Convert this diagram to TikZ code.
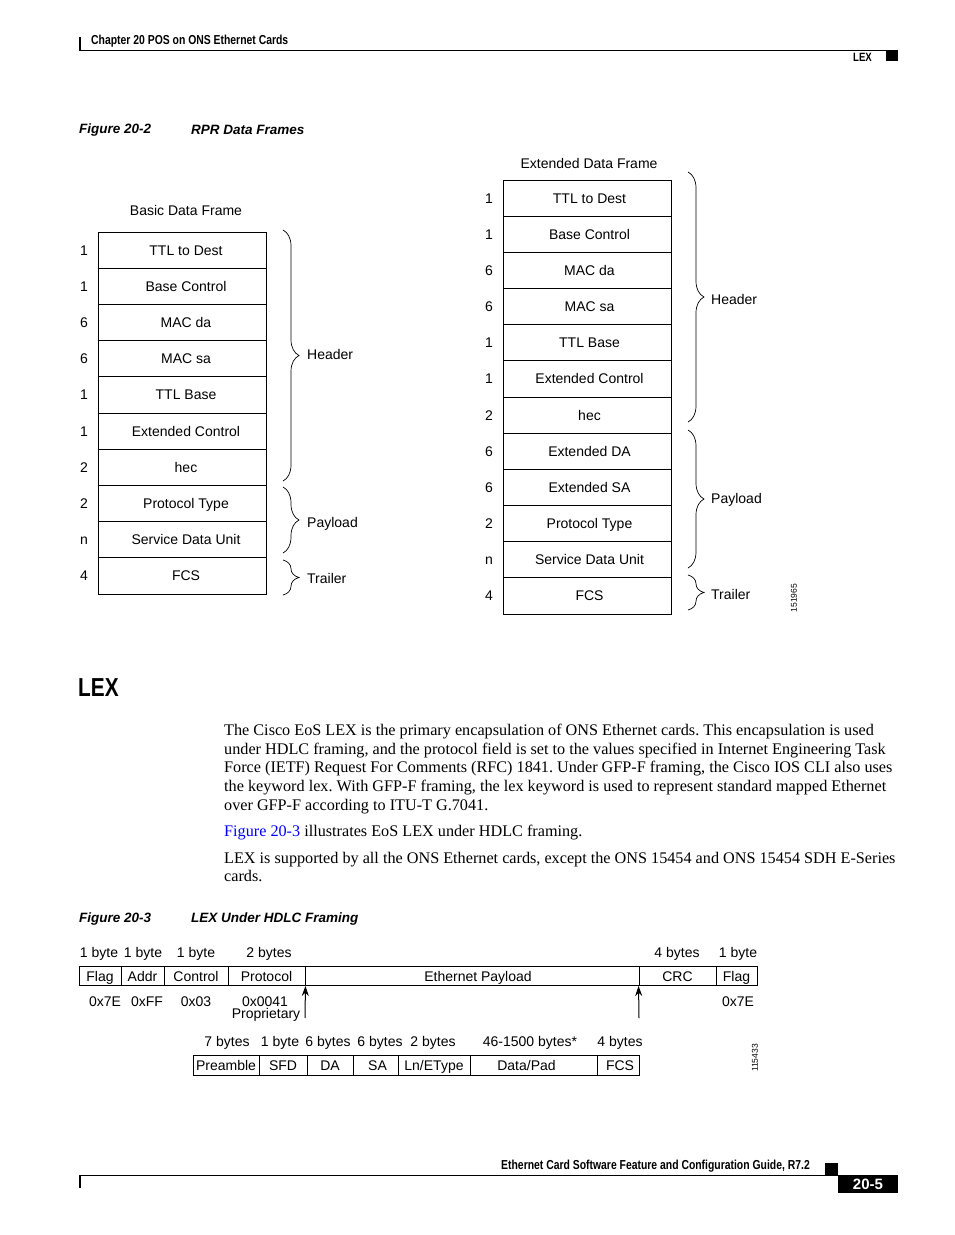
\documentclass[tikz,border=0pt]{standalone}
\usepackage{fontspec}
\setmainfont{Liberation Serif}
\newfontfamily\figfont{Liberation Sans}
\newfontfamily\condfont[FakeStretch=0.8]{Liberation Sans}
\usetikzlibrary{decorations.pathreplacing,arrows.meta}
\definecolor{linkblue}{RGB}{0,0,255}
\newcommand\myfs[1]{\fontsize{#1}{#1}\selectfont}
\frenchspacing
\begin{document}
\begin{tikzpicture}[x=1pt,y=-1pt,
  lbl/.style={font=\figfont\myfs{14}, inner sep=0pt, text height=10pt, text depth=0pt},
  frow/.style={lbl, draw, line width=0.9pt, minimum width=168pt, minimum height=36.2pt},
  brc/.style={decorate, decoration={brace, amplitude=16pt}, line width=0.7pt},
  cell/.style={lbl, draw, line width=0.9pt, minimum height=19pt},
  arr/.style={-{Stealth[length=10pt,width=7pt]}, line width=1pt},
  body/.style={font=\myfs{16.2}, inner sep=0pt, anchor=base west},
  cond/.style={font=\condfont\bfseries\myfs{13}, inner sep=0pt},
  capt/.style={font=\figfont\bfseries\itshape\myfs{13.5}, inner sep=0pt, anchor=west},
  idnum/.style={font=\figfont\myfs{8.5}, inner sep=0pt, rotate=90}]
\useasboundingbox (0,0) rectangle (954,1235);

% ---------- page header ----------
\draw[line width=2pt] (79.5,37) -- (79.5,50);
\draw[line width=0.9pt] (79,50) -- (898,50);
\node[cond, anchor=west] (chap) at (91,41.5) {Chapter 20 POS on ONS Ethernet Cards};
\node[cond, font=\condfont\bfseries\myfs{12}, anchor=east] (hlex) at (872,57) {LEX};
\fill (886,51) rectangle (898,61);

% ---------- Figure 20-2 ----------
\node[capt] (cap2a) at (79,130) {Figure 20-2};
\node[capt] (cap2b) at (191,130) {RPR Data Frames};

% basic data frame
\node[lbl] (btitle) at (186,210) {Basic Data Frame};
\foreach \t [count=\i] in {TTL to Dest, Base Control, MAC da, MAC sa, TTL Base,
  Extended Control, hec, Protocol Type, Service Data Unit, FCS}
  \node[frow] (b\i) at (182,{232+18.1+36.2*(\i-1)}) {\hspace*{8pt}\t};
\foreach \n [count=\i] in {1,1,6,6,1,1,2,2,n,4}
  \node[lbl] (bn\i) at (84,{232+18.1+36.2*(\i-1)}) {\n};
\draw[brc] (283,230) -- (283,481);
\draw[brc] (283,487) -- (283,553);
\draw[brc] (283,560) -- (283,595);
\node[lbl, anchor=west] (bh) at (307,354) {Header};
\node[lbl, anchor=west] (bp) at (307,522) {Payload};
\node[lbl, anchor=west] (bt) at (307,578) {Trailer};

% extended data frame
\node[lbl] (etitle) at (589,163) {Extended Data Frame};
\foreach \t [count=\i] in {TTL to Dest, Base Control, MAC da, MAC sa, TTL Base,
  Extended Control, hec, Extended DA, Extended SA, Protocol Type, Service Data Unit, FCS}
  \node[frow] (e\i) at (587,{180+18.1+36.17*(\i-1)}) {\hspace*{5pt}\t};
\foreach \n [count=\i] in {1,1,6,6,1,1,2,6,6,2,n,4}
  \node[lbl] (en\i) at (489,{180+18.1+36.17*(\i-1)}) {\n};
\draw[brc] (688,172) -- (688,422);
\draw[brc] (688,430) -- (688,568);
\draw[brc] (688,575) -- (688,610);
\node[lbl, anchor=west] (eh) at (711,299) {Header};
\node[lbl, anchor=west] (ep) at (711,498) {Payload};
\node[lbl, anchor=west] (et) at (711,594) {Trailer};
\node[idnum] (id1) at (794,598) {151965};

% ---------- LEX section ----------
\node[font=\condfont\bfseries\myfs{26}, inner sep=0pt, anchor=west] (lexh) at (78,688) {LEX};
\node[body] (l1) at (224,735) {The Cisco EoS LEX is the primary encapsulation of ONS Ethernet cards. This encapsulation is used};
\node[body] (l2) at (224,754) {under HDLC framing, and the protocol field is set to the values specified in Internet Engineering Task};
\node[body] (l3) at (224,772.5) {Force (IETF) Request For Comments (RFC) 1841. Under GFP-F framing, the Cisco IOS CLI also uses};
\node[body] (l4) at (224,791) {the keyword lex. With GFP-F framing, the lex keyword is used to represent standard mapped Ethernet};
\node[body] (l5) at (224,810) {over GFP-F according to ITU-T G.7041.};
\node[body] (l6) at (224,836) {\textcolor{linkblue}{Figure 20-3} illustrates EoS LEX under HDLC framing.};
\node[body] (l7) at (224,863) {LEX is supported by all the ONS Ethernet cards, except the ONS 15454 and ONS 15454 SDH E-Series};
\node[body] (l8) at (224,881) {cards.};

% ---------- Figure 20-3 ----------
\node[capt] (cap3a) at (79,919) {Figure 20-3};
\node[capt] (cap3b) at (191,919) {LEX Under HDLC Framing};

\node[lbl] (t1) at (99,952) {1 byte};
\node[lbl] (t2) at (143,952) {1 byte};
\node[lbl] (t3) at (196,952) {1 byte};
\node[lbl] (t4) at (269,952) {2 bytes};
\node[lbl] (t5) at (677,952) {4 bytes};
\node[lbl] (t6) at (738,952) {1 byte};

\node[cell, minimum width=42pt] (f1) at (100,976) {Flag};
\node[cell, minimum width=43pt] (f2) at (142.5,976) {Addr};
\node[cell, minimum width=64pt] (f3) at (196,976) {Control};
\node[cell, minimum width=77pt] (f4) at (266.5,976) {Protocol};
\node[cell, minimum width=334pt] (f5) at (472,976) {\hspace*{12pt}Ethernet Payload};
\node[cell, minimum width=77pt] (f6) at (677.5,976) {CRC};
\node[cell, minimum width=41pt] (f7) at (736.5,976) {Flag};

\node[lbl] (v1) at (105,1001) {0x7E};
\node[lbl] (v2) at (147,1001) {0xFF};
\node[lbl] (v3) at (196,1001) {0x03};
\node[lbl] (v4) at (265,1001) {0x0041};
\node[lbl] (v5) at (266,1013) {Proprietary};
\node[lbl] (v6) at (738,1001) {0x7E};

\coordinate (a1) at (305,1018);
\coordinate (a2) at (639,1018);
\draw[arr] (a1) -- (f4.south east);
\draw[arr] (a2) -- (f6.south west);

\node[lbl] (s1) at (227,1041) {7 bytes};
\node[lbl] (s2) at (280,1041) {1 byte};
\node[lbl] (s3) at (328,1041) {6 bytes};
\node[lbl] (s4) at (380,1041) {6 bytes};
\node[lbl] (s5) at (433,1041) {2 bytes};
\node[lbl] (s6) at (530,1041) {46-1500 bytes*};
\node[lbl] (s7) at (620,1041) {4 bytes};

\node[cell, minimum width=66pt, minimum height=20pt] (g1) at (226,1065) {Preamble};
\node[cell, minimum width=48pt, minimum height=20pt] (g2) at (283,1065) {SFD};
\node[cell, minimum width=46pt, minimum height=20pt] (g3) at (330,1065) {DA};
\node[cell, minimum width=45pt, minimum height=20pt] (g4) at (375.5,1065) {\hspace*{4pt}SA};
\node[cell, minimum width=72pt, minimum height=20pt] (g5) at (434,1065) {Ln/EType};
\node[cell, minimum width=127pt, minimum height=20pt] (g6) at (533.5,1065) {Data/Pad\hspace*{14pt}};
\node[cell, minimum width=42pt, minimum height=20pt] (g7) at (618,1065) {\hspace*{4pt}FCS};
\node[idnum] (id2) at (755,1058) {115433};

% ---------- page footer ----------
\node[cond, anchor=east] (foot) at (810,1166) {Ethernet Card Software Feature and Configuration Guide, R7.2};
\fill (825,1163) rectangle (838,1175.5);
\draw[line width=0.9pt] (79,1175.5) -- (838,1175.5);
\draw[line width=2pt] (79.5,1176) -- (79.5,1188);
\fill (838,1175) rectangle (898,1193);
\node[font=\figfont\bfseries\myfs{15}, text=white, inner sep=0pt] (pg) at (868,1184) {20-5};
\end{tikzpicture}
\end{document}
